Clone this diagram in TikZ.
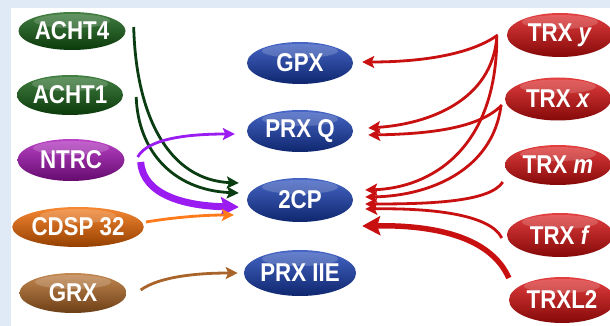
\documentclass[tikz,border=0pt]{standalone}
\usepackage{fontspec}
\setmainfont{Liberation Sans}
\usetikzlibrary{shapes.geometric,arrows.meta}
\definecolor{bgblue}{HTML}{DFEAF6}
\definecolor{cgreen}{HTML}{136013}
\definecolor{cpurple}{HTML}{A812B8}
\definecolor{corange}{HTML}{F56A00}
\definecolor{cbrown}{HTML}{B56A25}
\definecolor{cblue}{HTML}{1840B8}
\definecolor{cred}{HTML}{DD0E0E}
\definecolor{agreen}{HTML}{0B3D12}
\definecolor{apurple}{HTML}{9A1CF0}
\definecolor{aorange}{HTML}{FF7A1A}
\definecolor{abrown}{HTML}{A8642A}
\definecolor{ared}{HTML}{C81010}
\tikzset{
  pill/.style={ellipse, inner sep=0pt, minimum width=106pt, minimum height=42pt,
    top color=#1!80!white, middle color=#1, bottom color=#1!60!black,
    path picture={\fill[white,opacity=0.18] ([yshift=-9pt]path picture bounding box.north) ellipse (38pt and 7pt);},
    text=white, font=\bfseries\fontsize{23}{25}\selectfont},
  conn/.style={line width=2.8pt, draw=#1, -{Stealth[length=12pt,width=12pt,inset=2.5pt]}},
  thickconn/.style={line width=7pt, draw=#1, -{Stealth[length=18pt,width=19pt,inset=3pt]}},
}
\newcommand{\tall}[1]{\scalebox{0.97}[1.12]{#1}}
\begin{document}
\begin{tikzpicture}[x=1pt,y=-1pt]
\useasboundingbox (0,0) rectangle (610,326);
\fill[bgblue] (0,0) rectangle (610,326);
\fill[white] (11,8) rectangle (610,326);
% left
\node[pill=cgreen, minimum width=107pt, minimum height=38pt] (a4) at (72,31) {\tall{ACHT4}};
\node[pill=cgreen, minimum height=40pt] (a1) at (70,95) {\tall{ACHT1}};
\node[pill=cpurple, minimum width=107pt] (ntrc) at (71,160) {\tall{NTRC}};
\node[pill=corange, minimum width=117pt, minimum height=40pt] (cdsp) at (78,227) {\tall{CDSP 32}};
\node[pill=cbrown, minimum width=107pt, minimum height=40pt] (grx) at (73,293) {\tall{GRX}};
% middle
\node[pill=cblue] (gpx) at (300,63) {\tall{GPX}};
\node[pill=cblue] (prxq) at (300,131) {\tall{PRX Q}};
\node[pill=cblue, minimum height=44pt] (tcp) at (300,200) {\tall{2CP}};
\node[pill=cblue, minimum height=46pt] (prx2) at (300,273) {\tall{PRX IIE}};
% right
\node[pill=cred, minimum height=44pt] (ty) at (560,35) {\tall{TRX \textit{y}}};
\node[pill=cred, minimum height=43pt] (tx) at (558,99) {\tall{TRX \textit{x}}};
\node[pill=cred, minimum height=40pt] (tm) at (558,165) {\tall{TRX \textit{m}}};
\node[pill=cred, minimum height=44pt] (tf) at (560,235) {\tall{TRX \textit{f}}};
\node[pill=cred, minimum height=46pt] (tl2) at (562,300) {\tall{TRXL2}};
% left arrows
\draw[conn=agreen] ([shift={(8,-4)}]a4.east) .. controls (136,115) and (168,180) .. ([shift={(-8,-17)}]tcp.west);
\draw[conn=agreen] ([shift={(13,2)}]a1.east) .. controls (138,150) and (172,190) .. ([shift={(-8,-7)}]tcp.west);
\draw[conn=apurple] ([shift={(13,-3)}]ntrc.east) .. controls (148,138) and (190,134) .. ([shift={(-12,3)}]prxq.west);
\draw[thickconn=apurple] ([shift={(16,2)}]ntrc.east) .. controls (143,195) and (185,206) .. ([shift={(-8,7)}]tcp.west);
\draw[conn=aorange] ([shift={(2,-5)}]cdsp.east) .. controls (170,218) and (200,215) .. ([shift={(-13,15)}]tcp.west);
\draw[conn=abrown] ([shift={(14,-3)}]grx.east) .. controls (160,276) and (200,273) .. ([shift={(-6,0)}]prx2.west);
% right arrows
\draw[conn=ared] ([shift={(-9,0)}]ty.west) .. controls (470,55) and (420,62) .. ([shift={(9,-1)}]gpx.east);
\draw[conn=ared] ([shift={(-10,2)}]ty.west) .. controls (492,100) and (430,124) .. ([shift={(15,-3)}]prxq.east);
\draw[conn=ared] ([shift={(-10,4)}]ty.west) .. controls (496,150) and (430,188) .. ([shift={(12,-10)}]tcp.east);
\draw[conn=ared] ([shift={(-3,6)}]tx.west) .. controls (480,128) and (430,134) .. ([shift={(15,4)}]prxq.east);
\draw[conn=ared] ([shift={(-4,8)}]tx.west) .. controls (492,170) and (430,196) .. ([shift={(12,-3)}]tcp.east);
\draw[conn=ared] ([shift={(-2,17)}]tm.west) .. controls (490,202) and (430,204) .. ([shift={(12,4)}]tcp.east);
\draw[conn=ared] ([shift={(-5,3)}]tf.west) .. controls (490,214) and (430,208) .. ([shift={(12,9)}]tcp.east);
\draw[thickconn=ared, line width=5.5pt] ([shift={(0,-22)}]tl2.west) .. controls (490,235) and (430,225) .. ([shift={(9,26)}]tcp.east);
\end{tikzpicture}
\end{document}
